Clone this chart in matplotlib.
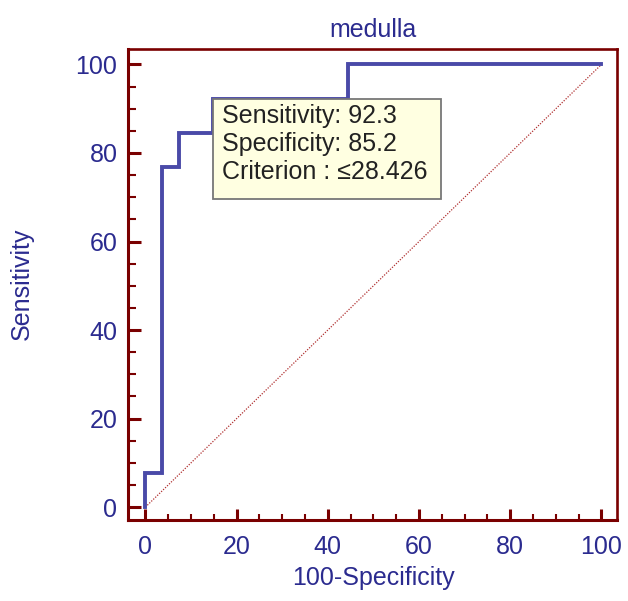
import matplotlib
matplotlib.use("Agg")
import matplotlib.pyplot as plt
from matplotlib.patches import Rectangle
from matplotlib.ticker import MultipleLocator

plt.rcParams['font.family'] = ['Liberation Sans', 'DejaVu Sans']

# ROC steps (100-specificity, sensitivity)
FPR = [0, 0, 3.7, 3.7, 7.4, 7.4, 14.8, 14.8, 44.4, 44.4, 100]
TPR = [0, 7.7, 7.7, 76.9, 76.9, 84.6, 84.6, 92.3, 92.3, 100, 100]
TIP_LINES = ["Sensitivity: 92.3", "Specificity: 85.2", "Criterion : \u226428.426"]
TIP_AT = (FPR[7], TPR[7])   # criterion point

BLUE = "#2b2b8f"
LINE = "#4a4aa8"
FRAME = "#7a0000"

fig = plt.figure(figsize=(6.28, 6.01), dpi=100)
ax = fig.add_axes([0.2046, 0.1348, 0.7786, 0.7845])

ax.plot([0, 100], [0, 100], color="#b03030", lw=0.9, ls=(0, (1, 1.2)))
ax.plot(FPR, TPR, color=LINE, lw=2.8, solid_joinstyle="miter")

ax.set_xlim(-3.7, 103.5)
ax.set_ylim(-2.9, 103.6)
ax.xaxis.set_major_locator(MultipleLocator(20))
ax.xaxis.set_minor_locator(MultipleLocator(5))
ax.yaxis.set_major_locator(MultipleLocator(20))
ax.yaxis.set_minor_locator(MultipleLocator(5))

for s in ax.spines.values():
    s.set_color(FRAME)
    s.set_linewidth(1.9)
ax.spines["left"].set_linewidth(2.2)
ax.spines["bottom"].set_linewidth(2.2)

ax.tick_params(which="both", direction="in", color=FRAME, top=False, right=False)
ax.tick_params(axis="x", which="major", length=8, width=2.2,
               labelcolor=BLUE, labelsize=18, pad=11)
ax.tick_params(axis="x", which="minor", length=4.5, width=1.5)
ax.tick_params(axis="y", which="major", length=9.5, width=2.2,
               labelcolor=BLUE, labelsize=18, pad=8)
ax.tick_params(axis="y", which="minor", length=6, width=1.5)

ax.set_title("medulla", color=BLUE, fontsize=18, pad=8)
ax.set_xlabel("100-Specificity", color=BLUE, fontsize=18)
ax.set_ylabel("Sensitivity", color=BLUE, fontsize=18)
ax.xaxis.set_label_coords(0.5, -0.098)
ax.yaxis.set_label_coords(-0.194, 0.5)

# tooltip box hanging from the criterion point
ax.add_patch(Rectangle((TIP_AT[0], TIP_AT[1] - 22.7), 50.1, 22.5,
                       fc="#ffffe1", ec="#777777", lw=1.3, zorder=5))
ax.annotate("\n".join(TIP_LINES), xy=(TIP_AT[0], TIP_AT[1] - 0.2),
            xytext=(9, -5), textcoords="offset pixels",
            fontsize=18, color="#222222", va="top", ha="left",
            linespacing=1.2, zorder=6)

fig.savefig("out.png", dpi=100)
